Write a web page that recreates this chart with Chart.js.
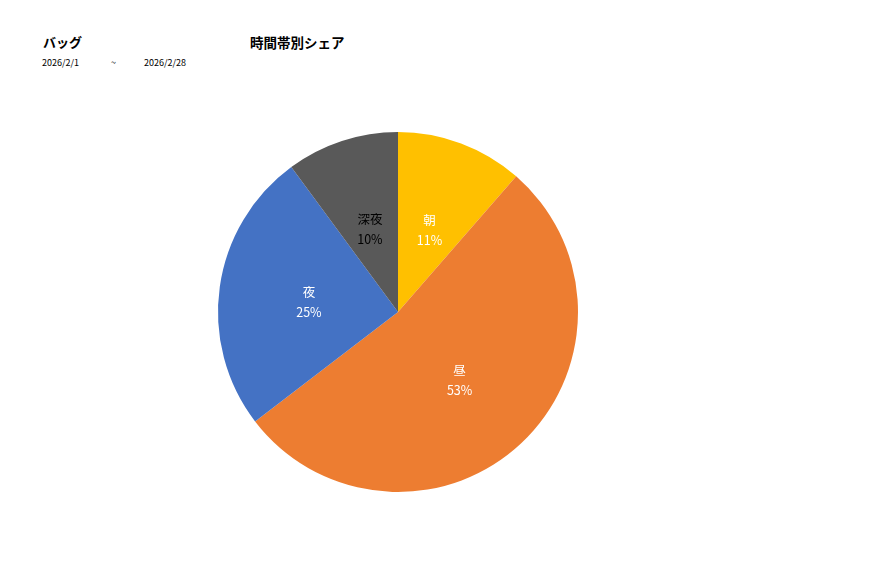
<!DOCTYPE html>
<html lang="ja">
<head>
<meta charset="utf-8">
<script src="https://cdn.jsdelivr.net/npm/chart.js@4/dist/chart.umd.min.js"></script>
<style>
  body { margin: 0; background: #fff; font-family: "Noto Sans CJK JP", "Noto Sans", sans-serif; }
  #page { position: relative; width: 877px; height: 578px; overflow: hidden; }
  .txt { position: absolute; white-space: nowrap; color: #000; }
  .head { font-size: 13.5px; font-weight: bold; top: 32px; }
  .date { font-size: 9px; top: 56px; }
  #box { position: absolute; left: 208px; top: 122px; width: 380px; height: 380px; }
</style>
</head>
<body>
<div id="page">
  <div class="txt head" style="left:43px;font-size:13px;">バッグ</div>
  <div class="txt head" style="left:250px;">時間帯別シェア</div>
  <div class="txt date" style="left:42px;">2026/2/1</div>
  <div class="txt date" style="left:111px;">~</div>
  <div class="txt date" style="left:144px;">2026/2/28</div>
  <div id="box"><canvas id="pieChart"></canvas></div>
</div>
<script>
const categories = ['朝', '昼', '夜', '深夜'];
const shares = [11.4, 53.2, 25.3, 10.1];
const sliceColors = ['#FFC000', '#ED7D31', '#4472C4', '#595959'];
const labelColors = ['#ffffff', '#ffffff', '#ffffff', '#000000'];

// draw "name / pct" inside each slice, roughly half way out
const sliceLabels = {
    id: 'sliceLabels',
    afterDatasetsDraw(chart) {
        const ctx = chart.ctx;
        const meta = chart.getDatasetMeta(0);
        const data = chart.data.datasets[0].data;
        const total = data.reduce((a, b) => a + b, 0);
        ctx.save();
        ctx.textAlign = 'center';
        ctx.textBaseline = 'middle';
        ctx.font = '12.5px "Noto Sans CJK JP", sans-serif';
        meta.data.forEach((arc, i) => {
            const mid = (arc.startAngle + arc.endAngle) / 2;
            const r = arc.outerRadius * 0.5;
            const x = arc.x + Math.cos(mid) * r;
            const y = arc.y + Math.sin(mid) * r;
            ctx.fillStyle = labelColors[i];
            ctx.fillText(chart.data.labels[i], x, y - 7);
            ctx.fillText(Math.round(data[i] / total * 100) + '%', x, y + 13);
        });
        ctx.restore();
    }
};

new Chart(document.getElementById('pieChart'), {
    type: 'pie',
    data: {
        labels: categories,
        datasets: [{
            data: shares,
            backgroundColor: sliceColors,
            borderWidth: 0
        }]
    },
    options: {
        responsive: true,
        maintainAspectRatio: false,
        animation: false,
        layout: { padding: 10 },
        plugins: {
            legend: { display: false },
            tooltip: { enabled: false }
        }
    },
    plugins: [sliceLabels]
});
</script>
</body>
</html>
